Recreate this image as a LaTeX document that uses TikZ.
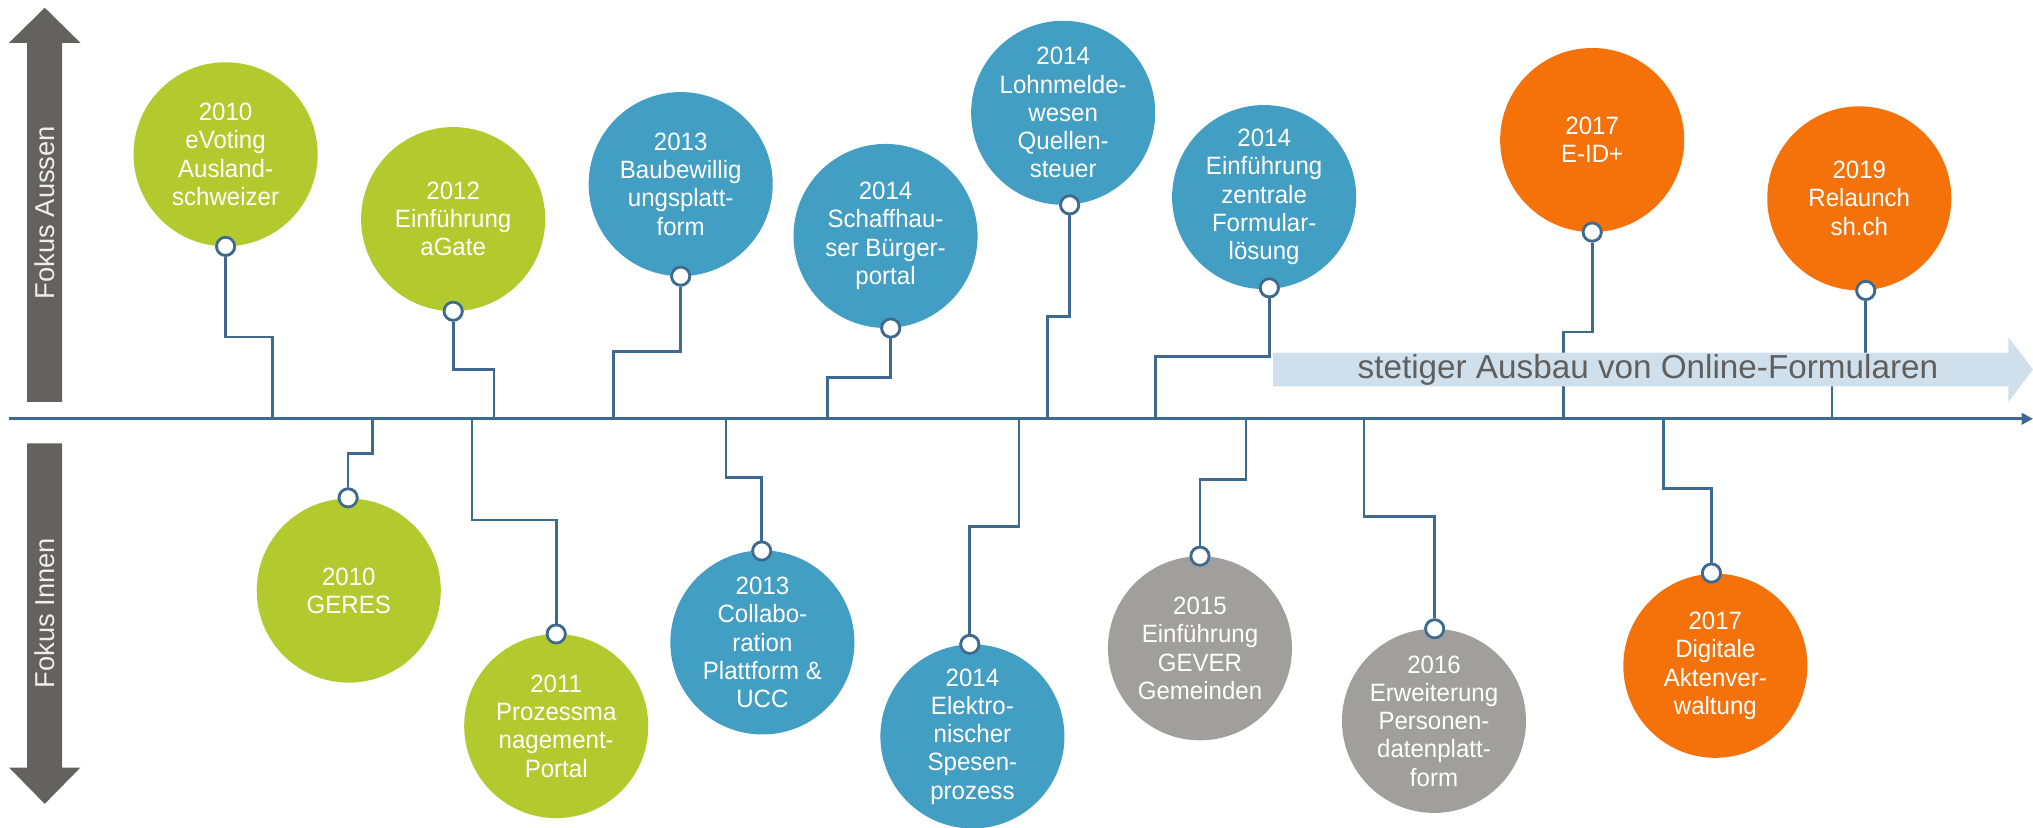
\documentclass[tikz,border=0pt]{standalone}
\usepackage{fontspec}
\setmainfont{Liberation Sans}
\newfontfamily\circfont[FakeStretch=0.96]{Liberation Sans}
\usetikzlibrary{arrows.meta}
\definecolor{cgreen}{HTML}{B2CA2D}
\definecolor{cblue}{HTML}{439EC4}
\definecolor{corange}{HTML}{F5710A}
\definecolor{cgray}{HTML}{A09F9E}
\definecolor{cline}{HTML}{3D6A8E}
\definecolor{cband}{HTML}{CFE0EC}
\definecolor{cbandtext}{HTML}{5F5F5F}
\definecolor{carrow}{HTML}{636260}
\begin{document}
\begin{tikzpicture}[x=0.02cm,y=-0.02cm,
  bubble/.style={circle, minimum size=2.84cm, inner sep=0pt, text=white, align=center,
    font=\circfont\fontsize{11pt}{12.4pt}\selectfont},
  pin/.style={circle, draw=cline, fill=white, line width=1.2pt, minimum size=0.28cm, inner sep=0pt},
  conn/.style={draw=cline, line width=1.2pt},
  sidetext/.style={rotate=90, text=white!93!black, font=\fontsize{12pt}{14pt}\selectfont}]
\useasboundingbox (0,0) rectangle (1568,638);

% side arrows
\fill[carrow] (21,310) -- (21,33) -- (7,33) -- (34.5,6) -- (62,33) -- (48,33) -- (48,310) -- cycle;
\fill[carrow] (21,342) -- (21,592) -- (7,592) -- (34.5,620) -- (62,592) -- (48,592) -- (48,342) -- cycle;
\node[sidetext] (fa) at (34.5,164) {Fokus Aussen};
\node[sidetext] (fi) at (34.5,473) {Fokus Innen};

% axis
\coordinate (ax0) at (7,323);
\coordinate (ax1) at (1568,323);
\draw[conn, -{Triangle[length=5pt,width=5pt]}] (ax0) -- (ax1);

% axis connection points
\foreach \n/\x in {a1/210,a2/381,a3/473,a4/638,a5/808,a6/891,a7/1206,a8/1413,
                   d1/287.5,d2/364,d3/560,d4/786,d5/961,d6/1052,d7/1283}
  \coordinate (\n) at (\x,323);

% jog points (top)
\coordinate (k1) at (210,260);
\coordinate (k2) at (381,285);
\coordinate (k3) at (473,271);
\coordinate (k4) at (638,291);
\coordinate (k5) at (808,244);
\coordinate (k6) at (891,275);
\coordinate (k7) at (1206,256);
\coordinate (k8) at (1413,285);
% jog points (bottom)
\coordinate (m1) at (287.5,350);
\coordinate (m2) at (364,401);
\coordinate (m3) at (560,368.5);
\coordinate (m4) at (786,406);
\coordinate (m5) at (961,370);
\coordinate (m6) at (1052,398.5);
\coordinate (m7) at (1283,376.5);

% pins
\node[pin] (p1) at (174,190) {};
\node[pin] (p2) at (349.5,240) {};
\node[pin] (p3) at (525,213) {};
\node[pin] (p4) at (687,253) {};
\node[pin] (p5) at (825,158) {};
\node[pin] (p6) at (979,222) {};
\node[pin] (p7) at (1228,179) {};
\node[pin] (p8) at (1439,224) {};
\node[pin] (q1) at (268.5,384) {};
\node[pin] (q2) at (429,489) {};
\node[pin] (q3) at (587.5,425) {};
\node[pin] (q4) at (748,497) {};
\node[pin] (q5) at (925.5,429) {};
\node[pin] (q6) at (1106.5,485) {};
\node[pin] (q7) at (1320,442) {};

% connectors
\foreach \p/\k/\a in {p1/k1/a1,p2/k2/a2,p3/k3/a3,p4/k4/a4,p5/k5/a5,p6/k6/a6,p7/k7/a7,p8/k8/a8,
                      q1/m1/d1,q2/m2/d2,q3/m3/d3,q4/m4/d4,q5/m5/d5,q6/m6/d6,q7/m7/d7}
  \draw[conn] (\p) |- (\k) -- (\a);

% band arrow
\fill[cband] (982,272) -- (1549,272) -- (1549,260) -- (1568,285) -- (1549,310) -- (1549,298) -- (982,298) -- cycle;
\node[text=cbandtext, font=\fontsize{14.6pt}{16pt}\selectfont] (band) at (1271,285) {stetiger Ausbau von Online-Formularen};

% bubbles top
\node[bubble, fill=cgreen] (b1) at (174,119) {2010\\eVoting\\Ausland-\\schweizer};
\node[bubble, fill=cgreen] (b2) at (349.5,169) {2012\\Einführung\\aGate};
\node[bubble, fill=cblue] (b3) at (525,142) {2013\\Baubewillig\\ungsplatt-\\form};
\node[bubble, fill=cblue] (b4) at (683,182) {2014\\Schaffhau-\\ser Bürger-\\portal};
\node[bubble, fill=cblue] (b5) at (820,87) {2014\\Lohnmelde-\\wesen\\Quellen-\\steuer};
\node[bubble, fill=cblue] (b6) at (975,152) {2014\\Einführung\\zentrale\\Formular-\\lösung};
\node[bubble, fill=corange] (b7) at (1228,108) {2017\\E-ID+};
\node[bubble, fill=corange] (b8) at (1434,153) {2019\\Relaunch\\sh.ch};
% bubbles bottom
\node[bubble, fill=cgreen] (c1) at (269,455.5) {2010\\GERES};
\node[bubble, fill=cgreen] (c2) at (429,560) {2011\\Prozessma\\nagement-\\Portal};
\node[bubble, fill=cblue] (c3) at (588,495.5) {2013\\Collabo-\\ration\\Plattform \&\\UCC};
\node[bubble, fill=cblue] (c4) at (750,568) {2014\\Elektro-\\nischer\\Spesen-\\prozess};
\node[bubble, fill=cgray] (c5) at (925.5,500) {2015\\Einführung\\GEVER\\Gemeinden};
\node[bubble, fill=cgray] (c6) at (1106,556) {2016\\Erweiterung\\Personen-\\datenplatt-\\form};
\node[bubble, fill=corange] (c7) at (1323,513.5) {2017\\Digitale\\Aktenver-\\waltung};

% pins on top of bubbles
\foreach \p in {p1,p2,p3,p4,p5,p6,p7,p8,q1,q2,q3,q4,q5,q6,q7}
  \node[pin] at (\p) {};
\end{tikzpicture}
\end{document}
